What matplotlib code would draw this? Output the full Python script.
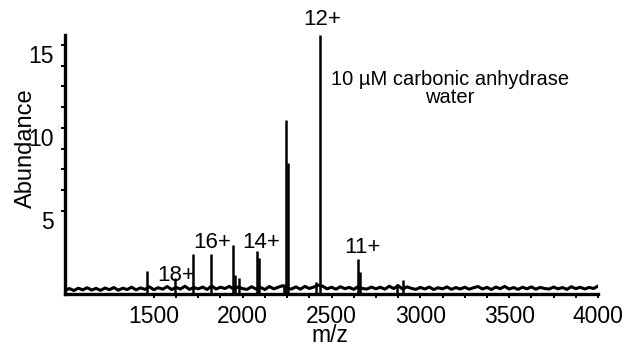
import numpy as np
import matplotlib
matplotlib.use("Agg")
import matplotlib.pyplot as plt

plt.rcParams['font.family'] = ['Liberation Sans', 'DejaVu Sans']

# Peak sticks (m/z, abundance)
peak_mz = [1461, 1620, 1718, 1822, 1946, 1955, 1979, 2083, 2090,
           2235, 2246, 2253, 2415, 2434, 2650, 2658, 2870, 2904]
peak_abundance = [1.38, 0.92, 2.39, 2.37, 2.93, 1.12, 0.96, 2.57, 2.13,
                  0.58, 10.5, 7.9, 0.70, 15.58, 2.07, 1.30, 0.55, 0.82]

# Baseline noise, one value every 25 m/z from 1000 to 4000
base_mz = np.arange(1000, 4001, 25)
base_abundance = [
    0.20, 0.30, 0.18, 0.32, 0.22, 0.35, 0.21, 0.31, 0.19, 0.33,
    0.23, 0.36, 0.20, 0.32, 0.24, 0.38, 0.22, 0.34, 0.25, 0.40,
    0.23, 0.35, 0.26, 0.42, 0.24, 0.37, 0.27, 0.44, 0.25, 0.36,
    0.28, 0.39, 0.24, 0.46, 0.27, 0.38, 0.30, 0.43, 0.26, 0.40,
    0.29, 0.25, 0.41, 0.27, 0.37, 0.24, 0.42, 0.28, 0.38, 0.47,
    0.31, 0.27, 0.40, 0.26, 0.43, 0.30, 0.39, 0.50, 0.44, 0.28,
    0.38, 0.26, 0.41, 0.29, 0.37, 0.25, 0.42, 0.30, 0.27, 0.39,
    0.28, 0.38, 0.26, 0.44, 0.30, 0.47, 0.27, 0.40, 0.31, 0.25,
    0.37, 0.27, 0.39, 0.24, 0.35, 0.28, 0.40, 0.25, 0.36, 0.27,
    0.38, 0.26, 0.35, 0.42, 0.27, 0.37, 0.24, 0.39, 0.29, 0.43,
    0.27, 0.36, 0.25, 0.38, 0.28, 0.40, 0.26, 0.37, 0.30, 0.27,
    0.39, 0.28, 0.36, 0.25, 0.41, 0.29, 0.38, 0.27, 0.37, 0.30,
    0.45,
]

# Charge state labels (text, m/z, abundance of text baseline)
charge_labels = ["12+", "16+", "14+", "18+", "11+"]
charge_x = [2446, 1829, 2105, 1626, 2672]
charge_y = [16.2, 2.73, 2.73, 0.78, 2.43]

x_ticks = [1500, 2000, 2500, 3000, 3500, 4000]
x_minor = [1625, 1750, 1875, 2125, 2250, 2375, 2625, 2750, 2875,
           3125, 3250, 3375, 3625, 3750, 3875]
y_ticks = [5, 10, 15]
y_minor = [6.25, 7.5, 8.75, 11.25, 12.5, 13.75]

fig = plt.figure(figsize=(6.32, 3.5), dpi=100)
ax = fig.add_axes([65 / 632, 1 - 293.5 / 350, 533 / 632, 258.5 / 350])

ax.plot(base_mz, base_abundance, color='black', lw=2.2)
ax.vlines(peak_mz, 0, peak_abundance, color='black', lw=1.8)

ax.set_xlim(1000, 4000)
ax.set_ylim(0, 15.6)

for side in ['top', 'right']:
    ax.spines[side].set_visible(False)
for side in ['left', 'bottom']:
    ax.spines[side].set_linewidth(2.4)

ax.set_xticks(x_ticks)
ax.set_xticks(x_minor, minor=True)
ax.set_yticks(y_ticks)
ax.set_yticks(y_minor, minor=True)
ax.set_yticklabels([str(t) for t in y_ticks], va='top')
ax.tick_params(which='both', direction='out', length=3, width=1.4,
               labelsize=16.5, pad=5)

ax.set_xlabel("m/z", fontsize=16.5)
ax.xaxis.set_label_coords(0.497, -0.118)
ax.set_ylabel("Abundance", fontsize=17)
ax.yaxis.set_label_coords(-0.053, 0.563)

for lab, x, y in zip(charge_labels, charge_x, charge_y):
    ax.text(x, y, lab, ha='center', va='baseline', fontsize=16, clip_on=False)

ax.text(3165, 12.59, "10 µM carbonic anhydrase", ha='center', va='baseline', fontsize=14.5)
ax.text(3165, 11.52, "water", ha='center', va='baseline', fontsize=14.5)

fig.savefig("out.png", dpi=100)
